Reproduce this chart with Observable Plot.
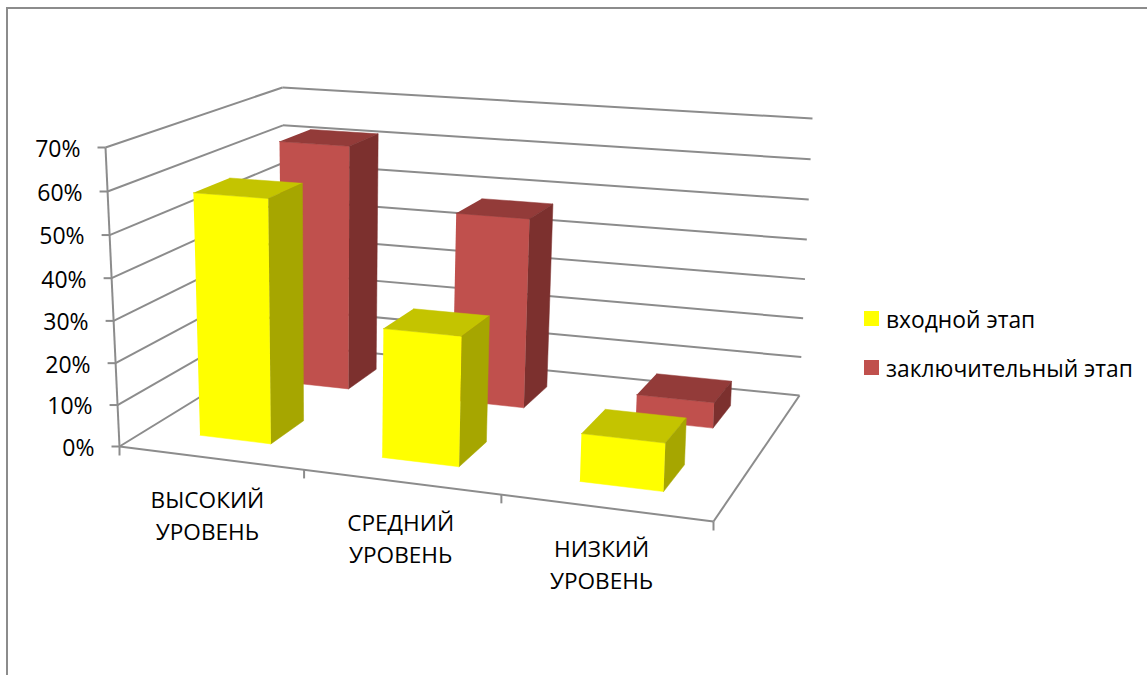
<!DOCTYPE html>
<html><head><meta charset="utf-8">
<script src="https://cdn.jsdelivr.net/npm/d3@7"></script>
<script src="https://cdn.jsdelivr.net/npm/@observablehq/plot@0.6"></script>
<style>
html,body{margin:0;padding:0;background:#fff;overflow:hidden;width:1147px;height:675px}
#frame{position:absolute;left:6px;top:7px;width:1200px;height:720px;border:2px solid #8c8c8c;box-sizing:border-box}
#chart{position:absolute;left:0;top:0}
#chart svg{display:block;background:transparent}
.lg{position:absolute;font:22.8px "Open Sans",sans-serif;color:#000;white-space:nowrap;line-height:24px}
.lg i{position:absolute;left:-22px;top:3px;width:15px;height:15px}
</style></head><body>
<div id="frame"></div><div id="chart"></div>
<div class="lg" style="left:886px;top:308px"><i style="background:#ffff00"></i>входной этап</div>
<div class="lg" style="left:886px;top:357px"><i style="background:#c0504d"></i>заключительный этап</div>
<script>
const categories = ["ВЫСОКИЙ УРОВЕНЬ", "СРЕДНИЙ УРОВЕНЬ", "НИЗКИЙ УРОВЕНЬ"];
const seriesNames = ["входной этап", "заключительный этап"];
const entryStage = [58, 30.3, 11];
const finalStage = [62, 47.3, 6.3];
const valueTicks = [0, 10, 20, 30, 40, 50, 60, 70];
const maxValue = 70;

// Camera of the 3D chart: screen corners of the floor and of the 70% plane
const floorCorners = [[119,446],[713,521],[799,395],[285,344]];
const topCorners   = [[105,147],[725,190],[812,118],[282,87]];
const verticalPerspective = 0.034;
const tickNudge = [0, 3, 3, 0];
const labelNudge = [-1, 3, -2];

function homography([p0,p1,p2,p3]) {
  const dx1=p1[0]-p2[0], dx2=p3[0]-p2[0], sx=p0[0]-p1[0]+p2[0]-p3[0];
  const dy1=p1[1]-p2[1], dy2=p3[1]-p2[1], sy=p0[1]-p1[1]+p2[1]-p3[1];
  const den=dx1*dy2-dx2*dy1;
  const g=(sx*dy2-dx2*sy)/den, h=(dx1*sy-sx*dy1)/den;
  const a=p1[0]-p0[0]+g*p1[0], b=p3[0]-p0[0]+h*p3[0], c=p0[0];
  const d=p1[1]-p0[1]+g*p1[1], e=p3[1]-p0[1]+h*p3[1], f=p0[1];
  return (s,t)=>{const w=g*s+h*t+1;return [(a*s+b*t+c)/w,(d*s+e*t+f)/w];};
}
const floorH=homography(floorCorners), topH=homography(topCorners);
function P(s,t,v){
  const A=floorH(s,t),B=topH(s,t),r=v/maxValue,q=verticalPerspective,k=r*(1-q)/(1-q*r);
  return [A[0]+(B[0]-A[0])*k,A[1]+(B[1]-A[1])*k];
}

const n=categories.length, halfW=0.0665, halfD=0.1;
const faces=[];
function addFace(id,color,pts){pts.forEach(p=>faces.push({id,color,x:p[0],y:p[1]}));}
function addBar(id,i,tc,v,cols){
  const s0=(i+.5)/n-halfW,s1=(i+.5)/n+halfW,t0=tc-halfD,t1=tc+halfD;
  addFace(id+"f",cols[0],[P(s0,t0,0),P(s1,t0,0),P(s1,t0,v),P(s0,t0,v)]);
  addFace(id+"t",cols[1],[P(s0,t0,v),P(s1,t0,v),P(s1,t1,v),P(s0,t1,v)]);
  addFace(id+"s",cols[2],[P(s1,t0,0),P(s1,t1,0),P(s1,t1,v),P(s1,t0,v)]);
}
finalStage.forEach((v,i)=>addBar("r"+i,i,.75,v,["#c0504d","#933b39","#7c302e"]));
entryStage.forEach((v,i)=>addBar("y"+i,i,.25,v,["#ffff00","#c4c400","#a6a600"]));

const seg=(a,b)=>({x1:a[0],y1:a[1],x2:b[0],y2:b[1]});
const grid=[];
valueTicks.forEach(v=>{grid.push(seg(P(0,0,v),P(0,1,v)));grid.push(seg(P(0,1,v),P(1,1,v)));});
grid.push(seg(P(0,0,0),P(0,0,maxValue)));
grid.push(seg(P(0,0,0),P(1,0,0)));
grid.push(seg(P(1,0,0),P(1,1,0)));
const yTicks=valueTicks.map(v=>{const p=P(0,0,v);return {x1:p[0],y1:p[1],x2:p[0]-8,y2:p[1]};});
const xTicks=d3.range(n+1).map(i=>{const p=P(i/n,0,0);return {x1:p[0]+tickNudge[i],y1:p[1],x2:p[0]+tickNudge[i],y2:p[1]+9};});
const yLabels=valueTicks.map(v=>{const p=P(0,0,v);return {x:p[0],y:p[1],text:v+"%"};});
const xLabels=categories.map((c,i)=>{const p=P((i+.5)/n,0,0);return {x:p[0]+labelNudge[i],y:p[1],text:c.replace(" ","\n")};});

const lineStyle={x1:"x1",y1:"y1",x2:"x2",y2:"y2",stroke:"#8c8c8c",strokeWidth:2};
const plot=Plot.plot({
  width:1147,height:675,margin:0,
  x:{domain:[0,1147],range:[0,1147],axis:null},
  y:{domain:[0,675],range:[0,675],axis:null},
  color:{type:"identity"},
  style:{background:"transparent"},
  marks:[
    Plot.link(grid,lineStyle),
    Plot.link(yTicks,lineStyle),
    Plot.link(xTicks,lineStyle),
    Plot.line(faces,{x:"x",y:"y",z:"id",fill:"color",stroke:"color",strokeWidth:.5}),
    Plot.text(yLabels,{x:"x",y:"y",text:"text",textAnchor:"end",dx:-25,dy:2,fontSize:23,fontFamily:"Open Sans",fill:"#000"}),
    Plot.text(xLabels,{x:"x",y:"y",text:"text",textAnchor:"middle",lineAnchor:"top",dy:27,lineHeight:1.42,fontSize:22.6,fontFamily:"Open Sans",fill:"#000"})
  ]
});
document.getElementById("chart").appendChild(plot);
</script></body></html>
